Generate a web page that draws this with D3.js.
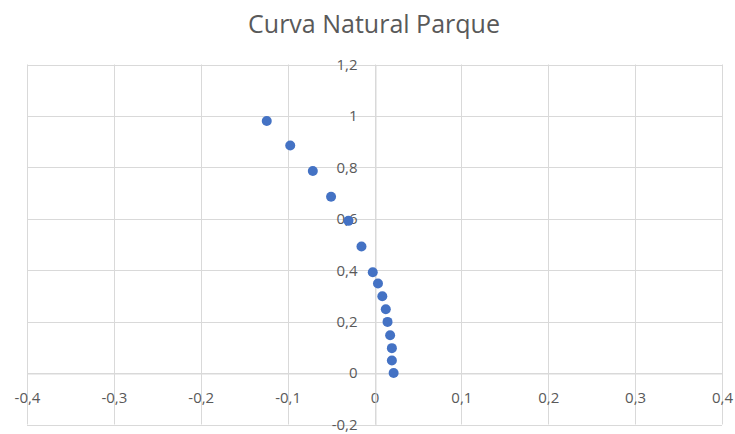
<!DOCTYPE html>
<html>
<head>
<meta charset="utf-8">
<script src="https://cdn.jsdelivr.net/npm/d3@7"></script>
<style>
  body { margin: 0; background: #fff; }
  text { font-family: "Open Sans", "Liberation Sans", sans-serif; fill: #595959; }
</style>
</head>
<body>
<div id="chart"></div>
<script>
let w = 735;
let h = 434;

// data
let xValues = [-0.124, -0.097, -0.071, -0.050, -0.030, -0.015, -0.002, 0.004, 0.009, 0.013, 0.015, 0.018, 0.020, 0.020, 0.022];
let yValues = [0.98, 0.885, 0.786, 0.686, 0.592, 0.492, 0.392, 0.348, 0.299, 0.248, 0.199, 0.147, 0.097, 0.049, 0];
let xTicks = [-0.4, -0.3, -0.2, -0.1, 0, 0.1, 0.2, 0.3, 0.4];
let yTicks = [-0.2, 0, 0.2, 0.4, 0.6, 0.8, 1, 1.2];
let title = "Curva Natural Parque";

let points = xValues.map((x, i) => ({ x: x, y: yValues[i] }));

let viz = d3.select("#chart")
  .append("svg")
  .attr("width", w)
  .attr("height", h);

let xScale = d3.scaleLinear().domain([-0.4, 0.4]).range([27, 722]);
let yScale = d3.scaleLinear().domain([-0.2, 1.2]).range([424.5, 64.5]);

let fmt = d => String(d).replace(".", ",");

// gridlines
viz.append("g").selectAll("line").data(xTicks).enter()
  .append("line")
  .attr("x1", d => Math.round(xScale(d)) + 0.5)
  .attr("x2", d => Math.round(xScale(d)) + 0.5)
  .attr("y1", yScale(1.2))
  .attr("y2", yScale(-0.2))
  .attr("stroke", "#d9d9d9");

viz.append("g").selectAll("line").data(yTicks).enter()
  .append("line")
  .attr("y1", d => Math.round(yScale(d)) + 0.5)
  .attr("y2", d => Math.round(yScale(d)) + 0.5)
  .attr("x1", xScale(-0.4))
  .attr("x2", xScale(0.4))
  .attr("stroke", "#d9d9d9");

// axes through zero
let xAxis = d3.axisBottom(xScale).tickValues(xTicks).tickFormat(fmt).tickSize(0).tickPadding(19);
viz.append("g")
  .attr("transform", "translate(0," + (Math.round(yScale(0)) + 0.5) + ")")
  .call(xAxis)
  .call(g => g.select(".domain").attr("stroke", "#d9d9d9"))
  .call(g => g.selectAll("text").style("font-size", "15px").attr("fill", "#595959"));

let yAxis = d3.axisLeft(yScale).tickValues(yTicks).tickFormat(fmt).tickSize(0).tickPadding(18);
viz.append("g")
  .attr("transform", "translate(" + (Math.round(xScale(0)) + 0.5) + ",0)")
  .call(yAxis)
  .call(g => g.select(".domain").attr("stroke", "#d9d9d9"))
  .call(g => g.selectAll("text").style("font-size", "15px").attr("fill", "#595959"));

// points
viz.selectAll(".datapoint").data(points).enter()
  .append("circle")
  .attr("class", "datapoint")
  .attr("cx", d => xScale(d.x))
  .attr("cy", d => yScale(d.y))
  .attr("r", 5)
  .attr("fill", "#4472c4");

// title
viz.append("text")
  .attr("x", 374)
  .attr("y", 33)
  .attr("text-anchor", "middle")
  .style("font-size", "25px")
  .text(title);
</script>
</body>
</html>
